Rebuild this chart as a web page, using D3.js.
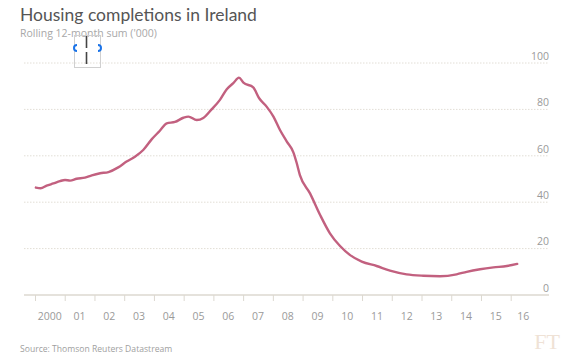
<!DOCTYPE html>
<html>
<head>
<meta charset="utf-8">
<script src="https://cdn.jsdelivr.net/npm/d3@7"></script>
<style>
  html, body { margin: 0; padding: 0; background: #fff; }
  svg { display: block; font-family: "Open Sans", "Noto Sans", sans-serif; }
</style>
</head>
<body>
<svg id="chart" width="583" height="363"></svg>
<script>
// ---- data (decimal year, thousands of completions, rolling 12-month sum) ----
const years = [2000.03,2000.19,2000.39,2000.62,2000.84,2001.01,2001.18,2001.40,2001.68,2001.91,
  2002.19,2002.47,2002.80,2003.08,2003.36,2003.64,2003.93,2004.20,2004.43,2004.71,2004.99,
  2005.16,2005.44,2005.66,2005.94,2006.22,2006.45,2006.67,2006.86,2007.01,2007.34,2007.54,
  2007.79,2008.02,2008.24,2008.47,2008.69,2008.80,2008.91,2009.25,2009.59,2009.92,2010.26,
  2010.60,2010.99,2011.49,2011.94,2012.50,2013.06,2013.62,2014.18,2014.52,2014.97,2015.42,
  2015.87,2016.22];
const values = [46.3,46.0,47.1,48.1,49.1,49.6,49.3,50.1,50.6,51.6,
  52.5,53.0,55.0,57.5,59.6,62.5,67.2,70.8,74.0,74.6,76.4,
  76.9,75.4,76.3,80.0,84.1,88.7,91.3,93.7,91.5,89.5,84.8,
  81.2,76.9,71.1,66.1,61.5,57.0,51.7,43.8,34.5,26.6,21.1,
  17.2,14.4,12.5,10.5,8.9,8.3,8.1,8.9,10.0,11.1,11.9,
  12.5,13.4];
const xTickYears = d3.range(2000, 2017);
const xTickLabels = ["2000","01","02","03","04","05","06","07","08","09","10","11","12","13","14","15","16"];
const yTicks = [0, 20, 40, 60, 80, 100];

const title = "Housing completions in Ireland";
const subtitle = "Rolling 12-month sum ('000)";
const source = "Source: Thomson Reuters Datastream";

// ---- layout ----
const svg = d3.select("#chart");
const x = d3.scaleLinear().domain([2000, 2016]).range([35, 510.7]);
const y = d3.scaleLinear().domain([0, 100]).range([295, 63]);
const gridLeft = 24, gridRight = 549;

// title
svg.append("text").attr("x", 20).attr("y", 21)
  .attr("font-family", "Lato, 'Open Sans', sans-serif")
  .attr("font-size", 17.5).attr("fill", "#555555").text(title);
svg.append("text").attr("x", 20).attr("y", 37)
  .attr("font-size", 10.5).attr("fill", "#a8a8a8").text(subtitle);

// gridlines
const grid = svg.append("g");
grid.selectAll("line").data(yTicks.filter(d => d > 0)).join("line")
  .attr("x1", gridLeft).attr("x2", gridRight)
  .attr("y1", d => y(d)).attr("y2", d => y(d))
  .attr("stroke", "#e2ded6").attr("stroke-width", 1)
  .attr("stroke-dasharray", "1.5,1.5");

// y labels
const yAxis = d3.axisRight(y).tickValues(yTicks).tickSize(0).tickFormat(d3.format("d"));
const yg = svg.append("g").attr("transform", `translate(${gridRight},0)`).call(yAxis);
yg.select(".domain").remove();
yg.selectAll("text").attr("x", 0).attr("dy", "-0.35em")
  .attr("text-anchor", "end").attr("font-size", 10.5).attr("fill", "#9a9a9a")
  .attr("font-family", "'Open Sans', sans-serif");

// baseline
svg.append("line").attr("x1", gridLeft).attr("x2", gridRight)
  .attr("y1", y(0)).attr("y2", y(0))
  .attr("stroke", "#dcd8d0").attr("stroke-width", 1.5);

// x axis ticks
const xAxis = d3.axisBottom(x).tickValues(xTickYears).tickSize(6).tickFormat("");
const xg = svg.append("g").attr("transform", `translate(0,${y(0)})`).call(xAxis);
xg.select(".domain").remove();
xg.selectAll("line").attr("stroke", "#dcd8d0");

// x labels centred in each year
svg.append("g").selectAll("text").data(xTickYears).join("text")
  .attr("x", (d, i) => i === xTickYears.length - 1 ? x(d + 0.42) : x(d + 0.5))
  .attr("y", 319.5)
  .attr("text-anchor", "middle").attr("font-size", 10.5).attr("fill", "#9a9a9a")
  .text((d, i) => xTickLabels[i]);

// line
const pts = years.map((yr, i) => [yr, values[i]]);
svg.append("path").datum(pts)
  .attr("fill", "none").attr("stroke", "#c2607f").attr("stroke-width", 2.4)
  .attr("stroke-linejoin", "round").attr("stroke-linecap", "round")
  .attr("d", d3.line().x(d => x(d[0])).y(d => y(d[1])).curve(d3.curveMonotoneX));

// source
svg.append("text").attr("x", 20).attr("y", 352)
  .attr("font-size", 8.6).attr("fill", "#a0a0a0").text(source);

// FT logo
svg.append("text").attr("x", 560).attr("y", 349).attr("text-anchor", "end")
  .attr("font-family", "'Liberation Serif', 'DejaVu Serif', serif")
  .attr("font-size", 22).attr("fill", "#efe2d6").text("FT");

// text-cursor artifact from the screenshot
const art = svg.append("g");
art.append("rect").attr("x", 74.5).attr("y", 35.5).attr("width", 26).attr("height", 32)
  .attr("fill", "none").attr("stroke", "#d0d0d0").attr("stroke-width", 1);
art.append("line").attr("x1", 86.5).attr("x2", 86.5).attr("y1", 36).attr("y2", 48)
  .attr("stroke", "#444").attr("stroke-width", 1.6);
art.append("line").attr("x1", 86.5).attr("x2", 86.5).attr("y1", 52).attr("y2", 64)
  .attr("stroke", "#444").attr("stroke-width", 1.6);
art.append("path").attr("d", "M77,45 A2.5,2.5 0 1 0 77,51")
  .attr("fill", "none").attr("stroke", "#1a73e8").attr("stroke-width", 2);
art.append("path").attr("d", "M98,45 A2.5,2.5 0 1 1 98,51")
  .attr("fill", "none").attr("stroke", "#1a73e8").attr("stroke-width", 2);
</script>
</body>
</html>
